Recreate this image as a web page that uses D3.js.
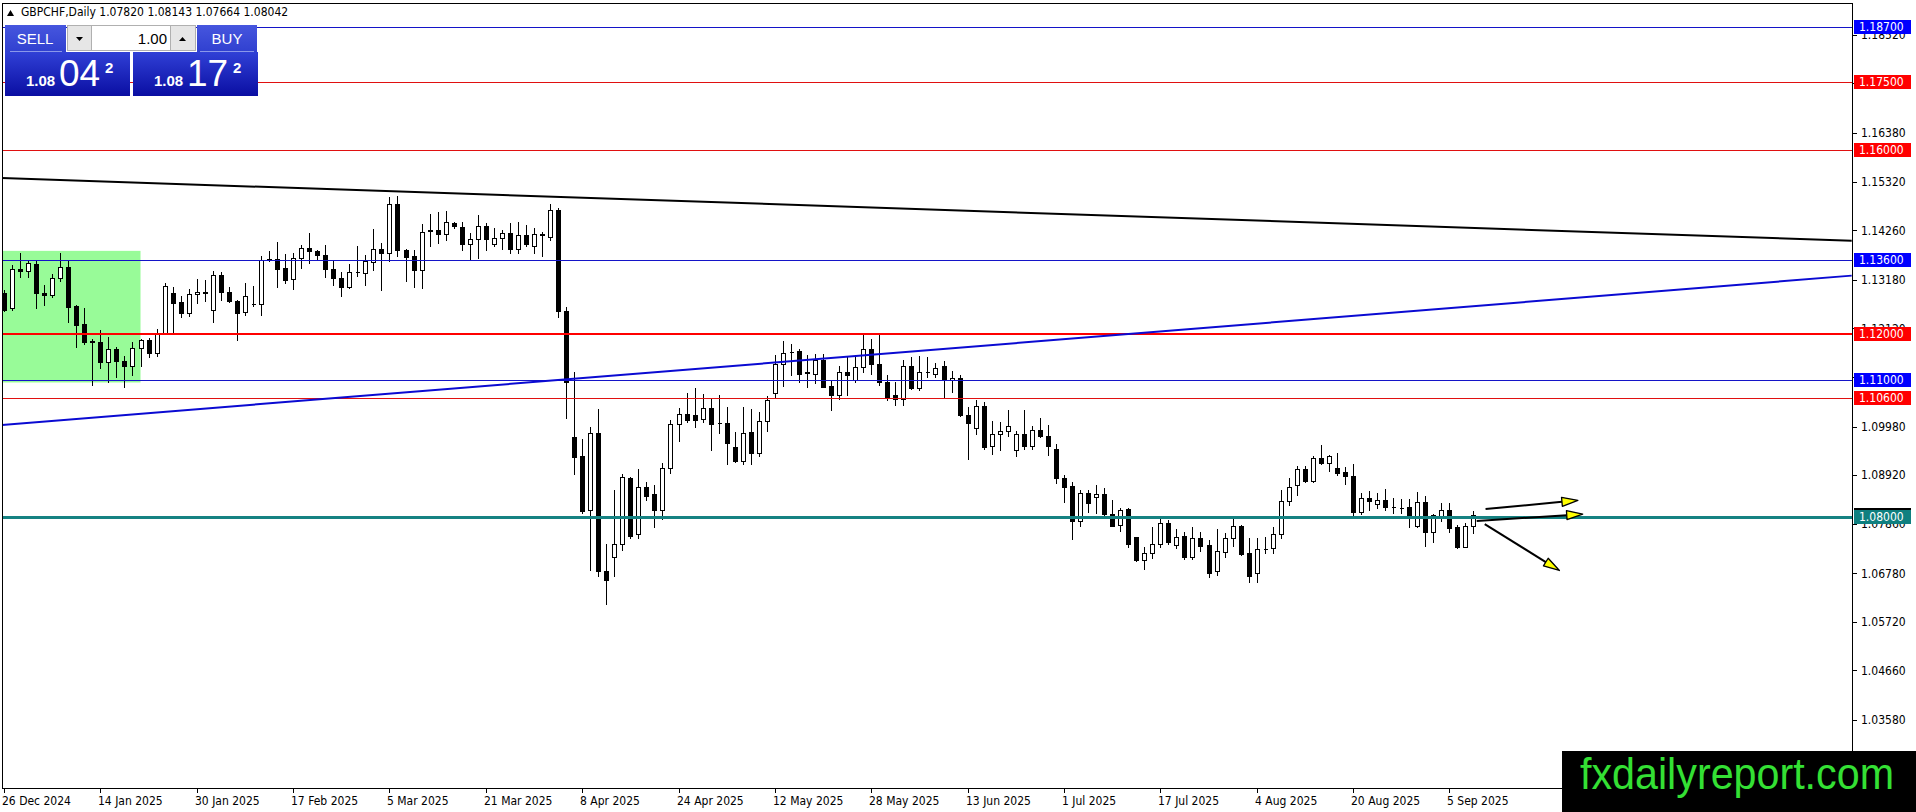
<!DOCTYPE html>
<html lang="en">
<head>
<meta charset="UTF-8">
<title>GBPCHF Daily</title>
<script src="https://d3js.org/d3.v7.min.js"></script>
<style>
    body { margin: 0; background: #fff; overflow: hidden; }
    svg { display: block; }
    .axis text { font-family: "DejaVu Sans Condensed", "DejaVu Sans", sans-serif; font-size: 12px; }
    .panel text { font-family: "Liberation Sans", Arial, sans-serif; fill: #fff; }
</style>
</head>
<body>
<svg id="chart" width="1916" height="812"></svg>
<script>
// daily candles, 26 Dec 2024 .. 10 Sep 2025
const opens = [
    1.1289, 1.1256, 1.1341, 1.1337, 1.1352, 1.1289, 1.1284, 1.1321, 1.1345, 1.1260,
    1.1221, 1.1185, 1.1182, 1.1138, 1.1167, 1.1141, 1.1130, 1.1169, 1.1186, 1.1159,
    1.1202, 1.1289, 1.1269, 1.1245, 1.1287, 1.1290, 1.1252, 1.1328, 1.1291, 1.1271,
    1.1247, 1.1266, 1.1265, 1.1362, 1.1363, 1.1343, 1.1319, 1.1365, 1.1387, 1.1381,
    1.1372, 1.1341, 1.1321, 1.1303, 1.1335, 1.1332, 1.1356, 1.1385, 1.1376, 1.1484,
    1.1383, 1.1369, 1.1340, 1.1425, 1.1427, 1.1418, 1.1441, 1.1434, 1.1396, 1.1407,
    1.1436, 1.1396, 1.1409, 1.1420, 1.1385, 1.1416, 1.1392, 1.1416, 1.1412, 1.1471,
    1.1249, 1.0975, 1.0933, 1.0817, 1.0984, 1.0682, 1.0713, 1.0742, 1.0885, 1.0763,
    1.0866, 1.0850, 1.0817, 1.0908, 1.1004, 1.1025, 1.1022, 1.1014, 1.1038, 1.1005,
    1.1006, 1.0953, 1.0923, 1.0987, 1.0940, 1.1011, 1.1070, 1.1134, 1.1161, 1.1162,
    1.1116, 1.1112, 1.1142, 1.1087, 1.1066, 1.1117, 1.1099, 1.1128, 1.1166, 1.1134,
    1.1094, 1.1066, 1.1059, 1.1130, 1.1083, 1.1117, 1.1112, 1.1130, 1.1099, 1.1103,
    1.1023, 1.0994, 1.1043, 1.0955, 1.0981, 1.0989, 1.0947, 1.0982, 1.0955, 1.0991,
    1.0978, 1.0950, 1.0885, 1.0868, 1.0791, 1.0852, 1.0844, 1.0851, 1.0807, 1.0783,
    1.0818, 1.0756, 1.0706, 1.0722, 1.0741, 1.0787, 1.0739, 1.0759, 1.0714, 1.0754,
    1.0739, 1.0682, 1.0725, 1.0754, 1.0781, 1.0722, 1.0679, 1.0730, 1.0732, 1.0763,
    1.0836, 1.0870, 1.0905, 1.0880, 1.0929, 1.0919, 1.0907, 1.0898, 1.0890, 1.0812,
    1.0841, 1.0828, 1.0838, 1.0822, 1.0821, 1.0822, 1.0781, 1.0834, 1.0769, 1.0803,
    1.0816, 1.0778, 1.0736, 1.0782
];
const highs = [
    1.1296, 1.1351, 1.1376, 1.1361, 1.1361, 1.1307, 1.1331, 1.1376, 1.1360, 1.1263,
    1.1256, 1.1189, 1.1209, 1.1194, 1.1172, 1.1151, 1.1183, 1.1189, 1.1191, 1.1210,
    1.1312, 1.1303, 1.1283, 1.1298, 1.1319, 1.1318, 1.1336, 1.1334, 1.1303, 1.1274,
    1.1311, 1.1305, 1.1369, 1.1380, 1.1401, 1.1375, 1.1376, 1.1394, 1.1421, 1.1383,
    1.1394, 1.1361, 1.1334, 1.1353, 1.1391, 1.1372, 1.1428, 1.1398, 1.1498, 1.1501,
    1.1385, 1.1383, 1.1439, 1.1462, 1.1465, 1.1469, 1.1444, 1.1445, 1.1420, 1.1460,
    1.1441, 1.1431, 1.1427, 1.1441, 1.1445, 1.1438, 1.1431, 1.1423, 1.1484, 1.1474,
    1.1258, 1.1116, 1.0971, 1.0996, 1.1036, 1.0742, 1.0859, 1.0895, 1.0888, 1.0906,
    1.0877, 1.0870, 1.0918, 1.1013, 1.1038, 1.1072, 1.1082, 1.1069, 1.1060, 1.1066,
    1.1040, 1.0986, 1.1041, 1.1036, 1.1029, 1.1064, 1.1155, 1.1184, 1.1178, 1.1166,
    1.1155, 1.1157, 1.1157, 1.1098, 1.1130, 1.1152, 1.1153, 1.1200, 1.1188, 1.1199,
    1.1111, 1.1094, 1.1142, 1.1150, 1.1152, 1.1149, 1.1136, 1.1141, 1.1119, 1.1111,
    1.1040, 1.1056, 1.1051, 1.1009, 1.1007, 1.1033, 1.0989, 1.1034, 1.0998, 1.1016,
    1.1002, 1.0960, 1.0892, 1.0877, 1.0860, 1.0860, 1.0871, 1.0863, 1.0838, 1.0821,
    1.0821, 1.0758, 1.0736, 1.0778, 1.0803, 1.0794, 1.0774, 1.0767, 1.0778, 1.0767,
    1.0751, 1.0774, 1.0765, 1.0798, 1.0783, 1.0754, 1.0754, 1.0756, 1.0778, 1.0860,
    1.0885, 1.0912, 1.0912, 1.0934, 1.0958, 1.0936, 1.0940, 1.0909, 1.0916, 1.0854,
    1.0858, 1.0852, 1.0861, 1.0843, 1.0839, 1.0839, 1.0856, 1.0847, 1.0807, 1.0832,
    1.0831, 1.0783, 1.0787, 1.08143
];
const lows = [
    1.1249, 1.1252, 1.1324, 1.1324, 1.1256, 1.1263, 1.1280, 1.1316, 1.1225, 1.1172,
    1.1178, 1.1089, 1.1125, 1.1094, 1.1106, 1.1085, 1.1110, 1.1130, 1.1149, 1.1151,
    1.1200, 1.1203, 1.1236, 1.1238, 1.1267, 1.1271, 1.1225, 1.1273, 1.1270, 1.1187,
    1.1242, 1.1261, 1.1242, 1.1358, 1.1303, 1.1312, 1.1298, 1.1343, 1.1354, 1.1364,
    1.1324, 1.1307, 1.1282, 1.1299, 1.1327, 1.1307, 1.1340, 1.1296, 1.1358, 1.1370,
    1.1316, 1.1302, 1.1299, 1.1392, 1.1399, 1.1405, 1.1431, 1.1382, 1.1360, 1.1365,
    1.1382, 1.1391, 1.1386, 1.1377, 1.1376, 1.1391, 1.1376, 1.1370, 1.1404, 1.1236,
    1.1016, 1.0895, 1.0809, 1.0685, 1.0673, 1.0610, 1.0673, 1.0729, 1.0755, 1.0755,
    1.0838, 1.0778, 1.0796, 1.0897, 1.0966, 1.1007, 1.0996, 1.1007, 1.0946, 1.0983,
    1.0917, 1.0921, 1.0917, 1.0917, 1.0934, 1.0989, 1.1060, 1.1087, 1.1111, 1.1096,
    1.1085, 1.1092, 1.1084, 1.1034, 1.1058, 1.1067, 1.1096, 1.1116, 1.1113, 1.1089,
    1.1056, 1.1045, 1.1045, 1.1079, 1.1077, 1.1105, 1.1105, 1.1063, 1.1074, 1.1020,
    1.0928, 1.0982, 1.0950, 1.0937, 1.0947, 1.0978, 1.0934, 1.0950, 1.0950, 1.0975,
    1.0935, 1.0874, 1.0833, 1.0752, 1.0780, 1.0812, 1.0810, 1.0802, 1.0781, 1.0771,
    1.0736, 1.0705, 1.0687, 1.0711, 1.0735, 1.0742, 1.0732, 1.0708, 1.0708, 1.0727,
    1.0669, 1.0674, 1.0713, 1.0738, 1.0718, 1.0660, 1.0660, 1.0722, 1.0723, 1.0754,
    1.0827, 1.0849, 1.0876, 1.0876, 1.0916, 1.0900, 1.0892, 1.0872, 1.0803, 1.0807,
    1.0817, 1.0820, 1.0816, 1.0810, 1.0809, 1.0778, 1.0778, 1.0738, 1.0747, 1.0793,
    1.0767, 1.0732, 1.0735, 1.07664
];
const closes = [
    1.1252, 1.1341, 1.1338, 1.1354, 1.1289, 1.1284, 1.1321, 1.1345, 1.1258, 1.1220,
    1.1183, 1.1182, 1.1138, 1.1167, 1.1140, 1.1131, 1.1169, 1.1186, 1.1159, 1.1202,
    1.1305, 1.1268, 1.1245, 1.1286, 1.1291, 1.1291, 1.1328, 1.1291, 1.1271, 1.1245,
    1.1282, 1.1266, 1.1361, 1.1363, 1.1341, 1.1318, 1.1365, 1.1387, 1.1380, 1.1371,
    1.1341, 1.1321, 1.1303, 1.1335, 1.1334, 1.1358, 1.1385, 1.1376, 1.1484, 1.1382,
    1.1367, 1.1340, 1.1423, 1.1426, 1.1417, 1.1443, 1.1436, 1.1396, 1.1407, 1.1436,
    1.1407, 1.1409, 1.1420, 1.1385, 1.1416, 1.1396, 1.1417, 1.1417, 1.1471, 1.1249,
    1.1096, 1.0931, 1.0814, 1.0984, 1.0682, 1.0664, 1.0742, 1.0887, 1.0760, 1.0866,
    1.0847, 1.0817, 1.0908, 1.1004, 1.1025, 1.1013, 1.1013, 1.1038, 1.1004, 1.1005,
    1.0962, 1.0923, 1.0984, 1.0940, 1.1011, 1.1056, 1.1134, 1.1159, 1.1160, 1.1112,
    1.1115, 1.1142, 1.1085, 1.1066, 1.1117, 1.1110, 1.1128, 1.1166, 1.1134, 1.1094,
    1.1061, 1.1059, 1.1130, 1.1083, 1.1117, 1.1117, 1.1126, 1.1099, 1.1103, 1.1022,
    1.1006, 1.1043, 1.0953, 1.0982, 1.0988, 1.1000, 1.0982, 1.0955, 1.0991, 1.0978,
    1.0955, 1.0885, 1.0866, 1.0791, 1.0852, 1.0832, 1.0850, 1.0807, 1.0782, 1.0817,
    1.0742, 1.0706, 1.0722, 1.0741, 1.0787, 1.0747, 1.0758, 1.0714, 1.0754, 1.0738,
    1.0679, 1.0727, 1.0754, 1.0780, 1.0720, 1.0671, 1.0730, 1.0731, 1.0763, 1.0836,
    1.0867, 1.0905, 1.0880, 1.0929, 1.0918, 1.0934, 1.0897, 1.0889, 1.0812, 1.0841,
    1.0836, 1.0838, 1.0822, 1.0822, 1.0821, 1.0805, 1.0834, 1.0769, 1.0804, 1.0817,
    1.0776, 1.0735, 1.0781, 1.08042
];
const askPrice = 1.08172;

const dateLabels = ["26 Dec 2024", "14 Jan 2025", "30 Jan 2025", "17 Feb 2025", "5 Mar 2025",
    "21 Mar 2025", "8 Apr 2025", "24 Apr 2025", "12 May 2025", "28 May 2025", "13 Jun 2025",
    "1 Jul 2025", "17 Jul 2025", "4 Aug 2025", "20 Aug 2025", "5 Sep 2025"];
const priceTicks = [1.18520, 1.17460, 1.16380, 1.15320, 1.14260, 1.13180, 1.12120, 1.11060,
    1.09980, 1.08920, 1.07860, 1.06780, 1.05720, 1.04660, 1.03580];

// horizontal levels
const levelPrices = [1.187, 1.175, 1.160, 1.136, 1.120, 1.110, 1.106, 1.080];
const levelKinds = ["blue", "red", "red", "blue", "redBold", "blue", "red", "teal"];

// trend lines: [bar, price] pairs
const trendFrom = [[-0.5, 1.1540], [-0.5, 1.1001]];
const trendTo = [[230.1, 1.1403], [230.1, 1.1327]];
const trendKinds = ["blackTrend", "blueTrend"];

// green rectangle
const zoneBars = [-3, 17];
const zonePrices = [1.1381, 1.1094];

// arrows
const arrowFrom = [[184.5, 1.0818], [183.4, 1.0792], [184.4, 1.0785]];
const arrowTo = [[196.0, 1.0837], [196.6, 1.0807], [193.7, 1.0684]];

const looks = {
    blue: { stroke: "#1414c8", width: 1, box: "#0000ff" },
    red: { stroke: "#e01010", width: 1, box: "#ff0000" },
    redBold: { stroke: "#ff0000", width: 2, box: "#ff0000" },
    teal: { stroke: "#158282", width: 3, box: "#0f8080" },
    blackTrend: { stroke: "#000", width: 2 },
    blueTrend: { stroke: "#0a0ad2", width: 2 }
};

const W = 1916, H = 812;
const plot = { left: 2, top: 3, right: 1852, bottom: 788 };

// bar calendar: weekdays, no 1 Jan
const dates = [];
for (let d = new Date(2024, 11, 26); dates.length < opens.length; d.setDate(d.getDate() + 1)) {
    const wd = d.getDay();
    if (wd === 0 || wd === 6) continue;
    if (d.getMonth() === 0 && d.getDate() === 1) continue;
    dates.push(new Date(d));
}
const fmt = d3.timeFormat("%-d %b %Y");
const bars = opens.map((o, i) => ({ i, date: dates[i], o, h: highs[i], l: lows[i], c: closes[i] }));

const x = d3.scaleLinear().domain([0, 183]).range([4, 4 + 183 * 8.03]);
const y = d3.scaleLinear().domain([1.16380, 1.03580]).range([133, 720]);
const px = v => Math.round(x(v));
const py = v => Math.round(y(v));

const svg = d3.select("#chart");
svg.append("rect").attr("width", W).attr("height", H).attr("fill", "#fff");

svg.append("clipPath").attr("id", "plotClip")
    .append("rect").attr("x", plot.left).attr("y", plot.top)
    .attr("width", plot.right - plot.left).attr("height", plot.bottom - plot.top);

const g = svg.append("g").attr("clip-path", "url(#plotClip)");

// zone (background object)
g.append("rect")
    .attr("x", x(zoneBars[0])).attr("y", y(zonePrices[0]))
    .attr("width", x(zoneBars[1]) - x(zoneBars[0]))
    .attr("height", y(zonePrices[1]) - y(zonePrices[0]))
    .attr("fill", "#98fb98");

// candles
const cg = g.append("g").attr("shape-rendering", "crispEdges");
cg.selectAll("line.wick").data(bars).join("line")
    .attr("class", "wick")
    .attr("x1", d => px(d.i) + 0.5).attr("x2", d => px(d.i) + 0.5)
    .attr("y1", d => py(d.h)).attr("y2", d => py(d.l) + 1)
    .attr("stroke", "#000");
cg.selectAll("path.body").data(bars).join("path")
    .attr("class", "body")
    .attr("d", d => {
        const cx = px(d.i);
        const t = py(Math.max(d.o, d.c)) + 0.5, b = py(Math.min(d.o, d.c)) + 0.5;
        return `M${cx - 1.5},${t}H${cx + 2.5}V${b}H${cx - 1.5}Z`;
    })
    .attr("fill", d => d.c > d.o ? "#fff" : "#000")
    .attr("stroke", "#000");

// horizontal levels
g.selectAll("line.level").data(levelPrices).join("line")
    .attr("class", "level")
    .attr("x1", plot.left).attr("x2", plot.right)
    .attr("y1", (p, i) => py(p) + (looks[levelKinds[i]].width % 2 ? 0.5 : 0))
    .attr("y2", (p, i) => py(p) + (looks[levelKinds[i]].width % 2 ? 0.5 : 0))
    .attr("stroke", (p, i) => looks[levelKinds[i]].stroke)
    .attr("stroke-width", (p, i) => looks[levelKinds[i]].width)
    .attr("shape-rendering", "crispEdges");

// trend lines
g.selectAll("line.trend").data(trendFrom).join("line")
    .attr("class", "trend")
    .attr("x1", d => x(d[0])).attr("y1", d => y(d[1]))
    .attr("x2", (d, i) => x(trendTo[i][0])).attr("y2", (d, i) => y(trendTo[i][1]))
    .attr("stroke", (d, i) => looks[trendKinds[i]].stroke)
    .attr("stroke-width", (d, i) => looks[trendKinds[i]].width);

// arrows
arrowFrom.forEach((a, i) => {
    const x0 = x(a[0]), y0 = y(a[1]), x1 = x(arrowTo[i][0]), y1 = y(arrowTo[i][1]);
    const ang = Math.atan2(y1 - y0, x1 - x0);
    const len = 16, half = 4.5;
    const bx = x1 - len * Math.cos(ang), by = y1 - len * Math.sin(ang);
    const nx = -Math.sin(ang) * half, ny = Math.cos(ang) * half;
    g.append("line")
        .attr("x1", x0).attr("y1", y0).attr("x2", bx).attr("y2", by)
        .attr("stroke", "#000").attr("stroke-width", 2);
    g.append("path")
        .attr("d", `M${x1},${y1}L${bx + nx},${by + ny}L${bx - nx},${by - ny}Z`)
        .attr("fill", "#ffff00").attr("stroke", "#000").attr("stroke-width", 1.3)
        .attr("stroke-linejoin", "round");
});

// frame
const frame = svg.append("g").attr("shape-rendering", "crispEdges").attr("stroke", "#000");
frame.append("line").attr("x1", plot.left + 0.5).attr("x2", plot.left + 0.5).attr("y1", plot.top).attr("y2", plot.bottom);
frame.append("line").attr("x1", plot.left).attr("x2", plot.right).attr("y1", plot.top + 0.5).attr("y2", plot.top + 0.5);
frame.append("line").attr("x1", plot.right + 0.5).attr("x2", plot.right + 0.5).attr("y1", plot.top).attr("y2", plot.bottom + 1);
frame.append("line").attr("x1", plot.left).attr("x2", plot.right + 1).attr("y1", plot.bottom + 0.5).attr("y2", plot.bottom + 0.5);

// price axis; a tick label sitting right under a level tag is not drawn (it is hidden there)
const covered = p => levelPrices.some(l => Math.abs(y(l) - y(p)) < 5);
const yAxis = d3.axisRight(y).tickValues(priceTicks).tickSize(4).tickPadding(4)
    .tickFormat(p => covered(p) ? "" : d3.format(".5f")(p));
const ya = svg.append("g").attr("class", "axis").attr("transform", `translate(${plot.right + 1},0)`).call(yAxis);
ya.select(".domain").remove();
ya.selectAll(".tick line").attr("shape-rendering", "crispEdges");
ya.selectAll(".tick text").attr("fill", "#000");

// price labels (bid, then levels)
const tagW = 57, tagH = 14;
function priceTag(p, fill) {
    const yy = py(p);
    const t = svg.append("g").attr("class", "axis");
    t.append("rect").attr("x", plot.right + 2).attr("y", yy - tagH / 2).attr("width", tagW).attr("height", tagH)
        .attr("fill", fill).attr("shape-rendering", "crispEdges");
    t.append("text").attr("x", plot.right + 7).attr("y", yy).attr("dy", "0.36em")
        .attr("fill", "#fff").text(d3.format(".5f")(p));
}
priceTag(closes[closes.length - 1], "#000");
levelPrices.forEach((p, i) => priceTag(p, looks[levelKinds[i]].box));

// time axis
const tickBars = dateLabels.map(s => dates.findIndex(d => fmt(d) === s));
const xa = svg.append("g").attr("class", "axis");
xa.selectAll("line").data(tickBars).join("line")
    .attr("x1", i => px(i) + 0.5).attr("x2", i => px(i) + 0.5)
    .attr("y1", plot.bottom + 1).attr("y2", plot.bottom + 5)
    .attr("stroke", "#000").attr("shape-rendering", "crispEdges");
xa.selectAll("text").data(tickBars).join("text")
    .attr("x", i => px(i) - 2).attr("y", 805)
    .attr("fill", "#000")
    .text(i => fmt(dates[i]));

// header
const last = bars[bars.length - 1];
const head = svg.append("g").attr("class", "axis");
head.append("path").attr("d", "M7,16L10.5,10L14,16Z").attr("fill", "#000");
head.append("text").attr("x", 21).attr("y", 16).attr("fill", "#000")
    .text(`GBPCHF,Daily  ${last.o.toFixed(5)} ${last.h.toFixed(5)} ${last.l.toFixed(5)} ${last.c.toFixed(5)}`);

// one-click trading panel
const defs = svg.append("defs");
const grad = defs.append("linearGradient").attr("id", "btnGrad").attr("x1", 0).attr("x2", 0).attr("y1", 0).attr("y2", 1);
grad.append("stop").attr("offset", "0%").attr("stop-color", "#3040d6");
grad.append("stop").attr("offset", "100%").attr("stop-color", "#0a0ea2");
const grad2 = defs.append("linearGradient").attr("id", "topGrad").attr("x1", 0).attr("x2", 0).attr("y1", 0).attr("y2", 1);
grad2.append("stop").attr("offset", "0%").attr("stop-color", "#4656de");
grad2.append("stop").attr("offset", "100%").attr("stop-color", "#3040d0");

const panel = svg.append("g").attr("class", "panel").attr("shape-rendering", "crispEdges");
const bid = last.c;
const parts = p => {
    const s = p.toFixed(5);
    return [s.slice(0, 4), s.slice(4, 6), s.slice(6)];
};
panel.append("rect").attr("x", 5).attr("y", 25).attr("width", 61).attr("height", 27).attr("fill", "url(#topGrad)");
panel.append("rect").attr("x", 197).attr("y", 25).attr("width", 60).attr("height", 27).attr("fill", "url(#topGrad)");
panel.append("line").attr("x1", 10).attr("x2", 62).attr("y1", 51.5).attr("y2", 51.5).attr("stroke", "#8a97ea");
panel.append("line").attr("x1", 200).attr("x2", 254).attr("y1", 51.5).attr("y2", 51.5).attr("stroke", "#8a97ea");
panel.append("text").attr("x", 35).attr("y", 44).attr("text-anchor", "middle").attr("font-size", 15).text("SELL");
panel.append("text").attr("x", 227).attr("y", 44).attr("text-anchor", "middle").attr("font-size", 15).text("BUY");

panel.append("rect").attr("x", 67.5).attr("y", 25.5).attr("width", 24).attr("height", 25).attr("fill", "#e6e6e6").attr("stroke", "#b0b0b0");
panel.append("rect").attr("x", 91.5).attr("y", 25.5).attr("width", 79).attr("height", 25).attr("fill", "#fff").attr("stroke", "#b0b0b0");
panel.append("rect").attr("x", 170.5).attr("y", 25.5).attr("width", 25).attr("height", 25).attr("fill", "#e6e6e6").attr("stroke", "#b0b0b0");
panel.append("path").attr("d", "M76,37H83L79.5,41Z").attr("fill", "#000").attr("shape-rendering", "auto");
panel.append("path").attr("d", "M179,41H186L182.5,37Z").attr("fill", "#000").attr("shape-rendering", "auto");
panel.append("text").attr("x", 167).attr("y", 44).attr("text-anchor", "end").attr("font-size", 15).style("fill", "#000").text("1.00");

[[5, bid], [133, askPrice]].forEach(([bx, p]) => {
    const [a, b, c] = parts(p);
    panel.append("rect").attr("x", bx).attr("y", 52).attr("width", 125).attr("height", 44).attr("fill", "url(#btnGrad)");
    panel.append("text").attr("x", bx + 21).attr("y", 86).attr("font-size", 15).attr("font-weight", "bold").text(a);
    panel.append("text").attr("x", bx + 54).attr("y", 86).attr("font-size", 37).text(b);
    panel.append("text").attr("x", bx + 100).attr("y", 73).attr("font-size", 15).attr("font-weight", "bold").text(c);
});

// watermark
svg.append("rect").attr("x", 1562).attr("y", 751).attr("width", W - 1562).attr("height", H - 751).attr("fill", "#000");
svg.append("text").attr("x", 1580).attr("y", 789)
    .attr("font-family", "'Liberation Sans Narrow', 'Arial Narrow', 'Liberation Sans', sans-serif")
    .attr("font-size", 44).attr("fill", "#34e034")
    .attr("textLength", 314).attr("lengthAdjust", "spacingAndGlyphs")
    .text("fxdailyreport.com");
</script>
</body>
</html>
